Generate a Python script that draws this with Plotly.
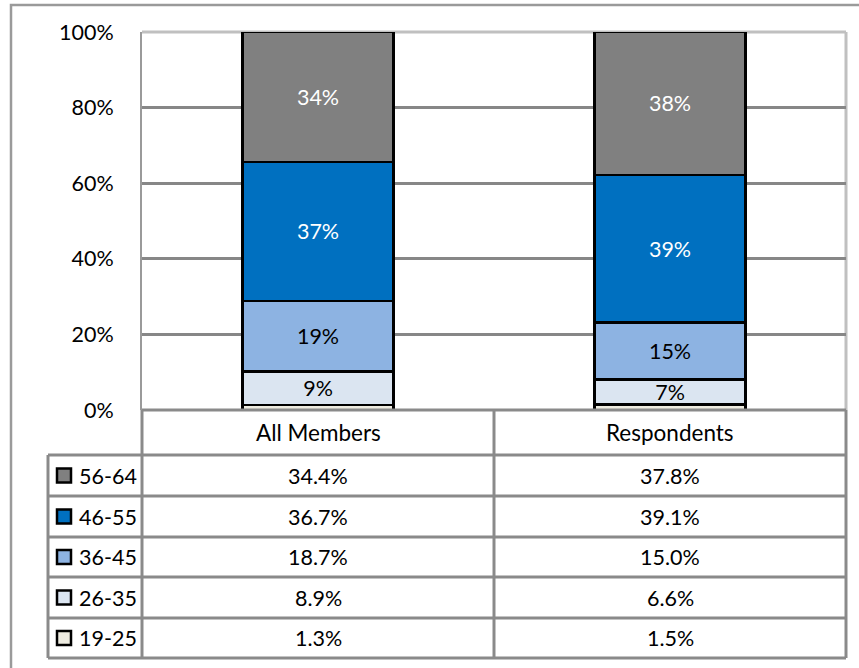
import plotly.graph_objects as go

# ---- data ----
groups = ["All Members", "Respondents"]
age_bands = ["19-25", "26-35", "36-45", "46-55", "56-64"]          # bottom -> top
all_members = [1.3, 8.9, 18.7, 36.7, 34.4]
respondents = [1.5, 6.6, 15.0, 39.1, 37.8]
band_colors = ["#EEECE1", "#DBE5F1", "#8DB3E2", "#0070C0", "#808080"]
label_colors = ["black", "black", "black", "white", "white"]
show_label = [False, True, True, True, True]
y_ticks = [0, 20, 40, 60, 80, 100]
y_tick_labels = ["0%", "20%", "40%", "60%", "80%", "100%"]

W, H = 859, 668
FONT = "Lato"
FS = 21.5
GRID = "#878787"


def X(px):
    return px / W


def Y(py):
    return 1 - py / H


fig = go.Figure()
for i, band in enumerate(age_bands):
    vals = [all_members[i], respondents[i]]
    txt = [f"{round(v)}%" for v in vals] if show_label[i] else ["", ""]
    fig.add_trace(go.Bar(
        x=groups, y=vals, name=band, width=0.43,
        marker=dict(color=band_colors[i], line=dict(color="black", width=2.5)),
        text=txt, textposition="inside", insidetextanchor="middle", textangle=0,
        textfont=dict(family=FONT, size=FS, color=label_colors[i]),
        hoverinfo="skip",
    ))

# plot area in pixels
PL, PR, PT, PB = 142, 846, 32, 410

fig.update_layout(
    barmode="stack",
    width=W, height=H, autosize=False,
    margin=dict(l=0, r=0, t=0, b=0, pad=0, autoexpand=False),
    paper_bgcolor="white", plot_bgcolor="white",
    showlegend=False,
    uniformtext=dict(mode="show", minsize=FS),
    font=dict(family=FONT, size=FS, color="black"),
    xaxis=dict(domain=[X(PL), X(PR)], showticklabels=False, showgrid=False,
               zeroline=False, showline=False, range=[-0.5, 1.5],
               automargin=False),
    yaxis=dict(domain=[Y(PB), Y(PT)], range=[0, 100], tickmode="array",
               tickvals=y_ticks, ticktext=y_tick_labels,
               showgrid=True, gridcolor=GRID, gridwidth=2.5,
               zeroline=False, showline=True, linecolor="#9a9a9a", linewidth=2,
               ticks="", ticklabelstandoff=22, automargin=False,
               tickfont=dict(family=FONT, size=FS, color="black")),
)

shapes = []
# outer frame
shapes.append(dict(type="rect", xref="paper", yref="paper",
                   x0=X(11), x1=X(880), y0=Y(690), y1=Y(5),
                   line=dict(color="#9a9a9a", width=2.5), layer="below"))
# plot area border (top / right)
shapes.append(dict(type="line", xref="paper", yref="paper",
                   x0=X(PL), x1=X(PR), y0=Y(PT), y1=Y(PT),
                   line=dict(color="#C0C0C0", width=3), layer="below"))
shapes.append(dict(type="line", xref="paper", yref="paper",
                   x0=X(PR), x1=X(PR), y0=Y(PB), y1=Y(PT),
                   line=dict(color="#C0C0C0", width=3), layer="below"))

# ---- data table ----
TL = 48
col_x = [PL, 494, PR]
header_top, header_bot = PB, 455
row_lines = [455, 496, 537, 577, 618, 658]
TC = "#8a8a8a"
TW = 3


def hline(y, x0, x1):
    shapes.append(dict(type="line", xref="paper", yref="paper",
                       x0=X(x0), x1=X(x1), y0=Y(y), y1=Y(y),
                       line=dict(color=TC, width=TW), layer="above"))


def vline(x, y0, y1):
    shapes.append(dict(type="line", xref="paper", yref="paper",
                       x0=X(x), x1=X(x), y0=Y(y0), y1=Y(y1),
                       line=dict(color=TC, width=TW), layer="above"))


hline(header_top, PL, PR)
for y in row_lines:
    hline(y, TL, PR)
for x in col_x:
    vline(x, header_top, row_lines[-1])
vline(TL, row_lines[0], row_lines[-1])

annotations = []
centers = [(col_x[0] + col_x[1]) / 2, (col_x[1] + col_x[2]) / 2]
for g, cx in zip(groups, centers):
    annotations.append(dict(text=g, xref="paper", yref="paper",
                            x=X(cx), y=Y((header_top + header_bot) / 2),
                            xanchor="center", yanchor="middle", showarrow=False,
                            font=dict(family=FONT, size=FS + 1, color="black")))

table_order = list(range(len(age_bands)))[::-1]  # top row = oldest band
for r, bi in enumerate(table_order):
    y0, y1 = row_lines[r], row_lines[r + 1]
    yc = (y0 + y1) / 2
    # legend swatch
    shapes.append(dict(type="rect", xref="paper", yref="paper",
                       x0=X(57), x1=X(71), y0=Y(yc + 7), y1=Y(yc - 7),
                       fillcolor=band_colors[bi],
                       line=dict(color="black", width=2.5), layer="above"))
    annotations.append(dict(text=age_bands[bi], xref="paper", yref="paper",
                            x=X(77), y=Y(yc), xanchor="left", yanchor="middle",
                            showarrow=False,
                            font=dict(family=FONT, size=FS, color="black")))
    for vals, cx in zip([all_members, respondents], centers):
        annotations.append(dict(text=f"{vals[bi]:.1f}%", xref="paper", yref="paper",
                                x=X(cx), y=Y(yc), xanchor="center", yanchor="middle",
                                showarrow=False,
                                font=dict(family=FONT, size=FS, color="black")))

fig.update_layout(shapes=shapes, annotations=annotations)
fig.write_html("out.html", config={"displayModeBar": False},
               post_script="document.body.style.margin='0px';")
